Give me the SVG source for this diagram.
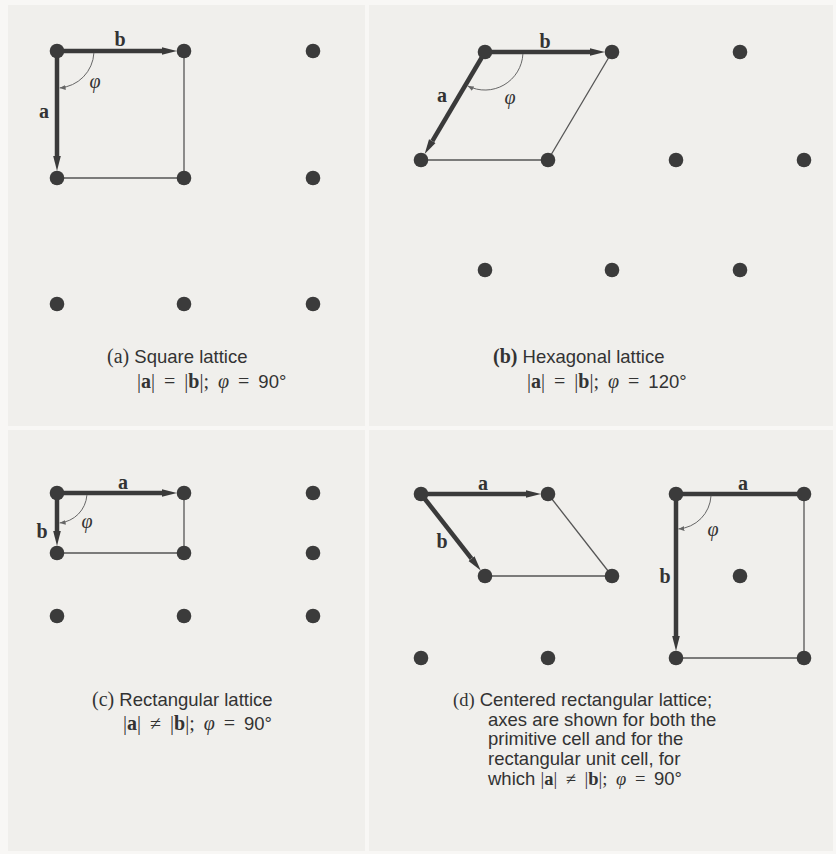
<svg xmlns="http://www.w3.org/2000/svg" width="836" height="854" viewBox="0 0 836 854">
<style>
.dot{fill:#3b3b3b}
.thick{stroke:#3a3a3a;stroke-width:4.5;fill:none}
.thin{stroke:#555;stroke-width:1.3;fill:none}
.arc{stroke:#666;stroke-width:1;fill:none}
.lbl{font-family:"Liberation Serif",serif;font-weight:bold;font-size:20px;fill:#333;text-anchor:middle}
.phi{font-family:"Liberation Serif",serif;font-style:italic;font-size:20px;fill:#333;text-anchor:middle}
.cap{font-family:"Liberation Sans",Arial,sans-serif;font-size:18.5px;fill:#333}
.ser{font-family:"Liberation Serif",serif;font-size:20px}
.ser2{font-family:"Liberation Serif",serif;font-size:18.5px}
.math{word-spacing:4px}
.b{font-weight:bold}
.i{font-style:italic}
</style>
<defs>
<marker id="ah" markerUnits="userSpaceOnUse" markerWidth="16" markerHeight="10" viewBox="0 -5 16 10" refX="0" refY="0" orient="auto">
<path d="M0,-3.8 L15,0 L0,3.8 Z" fill="#3a3a3a"/>
</marker>
<marker id="sa" markerUnits="userSpaceOnUse" markerWidth="8" markerHeight="6" viewBox="0 -3 8 6" refX="6" refY="0" orient="auto">
<path d="M0,-2.5 L6,0 L0,2.5 Z" fill="#666"/>
</marker>
</defs>
<rect x="0" y="0" width="836" height="854" fill="#f8f7f5"/>
<rect x="8" y="5" width="357" height="421" fill="#f0efec"/>
<rect x="369" y="5" width="464" height="421" fill="#f0efec"/>
<rect x="8" y="430" width="357" height="421" fill="#f0efec"/>
<rect x="369" y="430" width="464" height="421" fill="#f0efec"/>

<g id="connectors">
<line class="thin" x1="184" y1="51" x2="184" y2="178"/>
<line class="thin" x1="57" y1="178" x2="184" y2="178"/>
<line class="thick" x1="57" y1="51" x2="162" y2="51" marker-end="url(#ah)"/>
<line class="thick" x1="57" y1="51" x2="57" y2="156" marker-end="url(#ah)"/>
<path class="arc" d="M93.9,52.9 A37,37 0 0 1 59.6,87.9" marker-end="url(#sa)"/>
<line class="thin" x1="612" y1="52" x2="548" y2="160"/>
<line class="thin" x1="421" y1="160" x2="548" y2="160"/>
<line class="thick" x1="485" y1="52" x2="590" y2="52" marker-end="url(#ah)"/>
<line class="thick" x1="485" y1="52" x2="432.3" y2="141.1" marker-end="url(#ah)"/>
<path class="arc" d="M522.9,54 A38,38 0 0 1 467.7,85.9" marker-end="url(#sa)"/>
<line class="thin" x1="184" y1="493" x2="184" y2="553"/>
<line class="thin" x1="57" y1="553" x2="184" y2="553"/>
<line class="thick" x1="57" y1="493" x2="162" y2="493" marker-end="url(#ah)"/>
<line class="thick" x1="57" y1="493" x2="57" y2="531" marker-end="url(#ah)"/>
<path class="arc" d="M86.9,495.1 A30,30 0 0 1 59.6,522.9" marker-end="url(#sa)"/>
<line class="thin" x1="548" y1="494" x2="612" y2="576"/>
<line class="thin" x1="485" y1="576" x2="612" y2="576"/>
<line class="thick" x1="421" y1="494" x2="526" y2="494" marker-end="url(#ah)"/>
<line class="thick" x1="421" y1="494" x2="471.5" y2="558.7" marker-end="url(#ah)"/>
<line class="thin" x1="804" y1="494" x2="804" y2="658"/>
<line class="thin" x1="676" y1="658" x2="804" y2="658"/>
<line class="thick" x1="676" y1="494" x2="804" y2="494"/>
<line class="thick" x1="676" y1="494" x2="676" y2="636" marker-end="url(#ah)"/>
<path class="arc" d="M711,495.8 A35,35 0 0 1 678.4,528.9" marker-end="url(#sa)"/>
</g>

<g id="panel-a">
<circle class="dot" cx="57" cy="51" r="7.3"/><circle class="dot" cx="184" cy="51" r="7.3"/><circle class="dot" cx="313" cy="51" r="7.3"/>
<circle class="dot" cx="57" cy="178" r="7.3"/><circle class="dot" cx="184" cy="178" r="7.3"/><circle class="dot" cx="313" cy="178" r="7.3"/>
<circle class="dot" cx="57" cy="304" r="7.3"/><circle class="dot" cx="184" cy="304" r="7.3"/><circle class="dot" cx="313" cy="304" r="7.3"/>
<text class="lbl" x="120" y="46">b</text>
<text class="lbl" x="44" y="118">a</text>
<text class="phi" x="95" y="88">φ</text>
<text class="cap" x="107" y="363"><tspan class="ser">(a)</tspan> Square lattice</text>
<text class="cap math" x="137" y="388"><tspan class="ser">|<tspan class="b">a</tspan>| = |<tspan class="b">b</tspan>|; <tspan class="i">φ</tspan> = </tspan>90°</text>
</g>

<g id="panel-b">
<circle class="dot" cx="485" cy="52" r="7.3"/><circle class="dot" cx="612" cy="52" r="7.3"/><circle class="dot" cx="740" cy="52" r="7.3"/>
<circle class="dot" cx="421" cy="160" r="7.3"/><circle class="dot" cx="548" cy="160" r="7.3"/><circle class="dot" cx="676" cy="160" r="7.3"/><circle class="dot" cx="804" cy="160" r="7.3"/>
<circle class="dot" cx="485" cy="270" r="7.3"/><circle class="dot" cx="612" cy="270" r="7.3"/><circle class="dot" cx="740" cy="270" r="7.3"/>
<text class="lbl" x="545" y="48">b</text>
<text class="lbl" x="442" y="102">a</text>
<text class="phi" x="510" y="104">φ</text>
<text class="cap" x="493" y="363"><tspan class="ser b">(b)</tspan> Hexagonal lattice</text>
<text class="cap math" x="527" y="388"><tspan class="ser">|<tspan class="b">a</tspan>| = |<tspan class="b">b</tspan>|; <tspan class="i">φ</tspan> = </tspan>120°</text>
</g>

<g id="panel-c">
<circle class="dot" cx="57" cy="493" r="7.3"/><circle class="dot" cx="184" cy="493" r="7.3"/><circle class="dot" cx="313" cy="493" r="7.3"/>
<circle class="dot" cx="57" cy="553" r="7.3"/><circle class="dot" cx="184" cy="553" r="7.3"/><circle class="dot" cx="313" cy="553" r="7.3"/>
<circle class="dot" cx="57" cy="616" r="7.3"/><circle class="dot" cx="184" cy="616" r="7.3"/><circle class="dot" cx="313" cy="616" r="7.3"/>
<text class="lbl" x="123" y="489">a</text>
<text class="lbl" x="42" y="538">b</text>
<text class="phi" x="87" y="528">φ</text>
<text class="cap" x="92" y="706"><tspan class="ser">(c)</tspan> Rectangular lattice</text>
<text class="cap math" x="123" y="730"><tspan class="ser">|<tspan class="b">a</tspan>| ≠ |<tspan class="b">b</tspan>|; <tspan class="i">φ</tspan> = </tspan>90°</text>
</g>

<g id="panel-d">
<circle class="dot" cx="421" cy="494" r="7.3"/><circle class="dot" cx="548" cy="494" r="7.3"/>
<circle class="dot" cx="485" cy="576" r="7.3"/><circle class="dot" cx="612" cy="576" r="7.3"/>
<circle class="dot" cx="421" cy="658" r="7.3"/><circle class="dot" cx="548" cy="658" r="7.3"/>
<circle class="dot" cx="676" cy="494" r="7.3"/><circle class="dot" cx="804" cy="494" r="7.3"/>
<circle class="dot" cx="740" cy="576" r="7.3"/>
<circle class="dot" cx="676" cy="658" r="7.3"/><circle class="dot" cx="804" cy="658" r="7.3"/>
<text class="lbl" x="483" y="490">a</text>
<text class="lbl" x="442" y="548">b</text>
<text class="lbl" x="743" y="490">a</text>
<text class="lbl" x="665" y="583">b</text>
<text class="phi" x="713" y="536">φ</text>
<text class="cap" x="453" y="706"><tspan class="ser2">(d)</tspan> Centered rectangular lattice;</text>
<text class="cap" x="488" y="725.5">axes are shown for both the</text>
<text class="cap" x="488" y="745">primitive cell and for the</text>
<text class="cap" x="488" y="764.5">rectangular unit cell, for</text>
<text class="cap" x="488" y="784.5">which <tspan class="ser2 math">|<tspan class="b">a</tspan>| ≠ |<tspan class="b">b</tspan>|; <tspan class="i">φ</tspan> = </tspan>90°</text>
</g>
</svg>
